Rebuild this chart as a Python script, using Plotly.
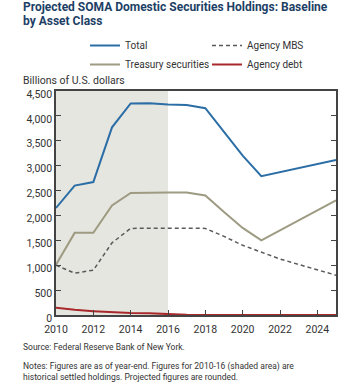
import plotly.graph_objects as go

years = list(range(2010, 2026))
total = [2150, 2600, 2670, 3770, 4250, 4255, 4230, 4220, 4155, 3680, 3200, 2790, 2870, 2950, 3030, 3115]
treasury = [1010, 1650, 1650, 2200, 2450, 2460, 2460, 2460, 2400, 2070, 1750, 1500, 1700, 1900, 2100, 2305]
mbs = [1000, 840, 900, 1450, 1740, 1745, 1745, 1745, 1740, 1580, 1400, 1255, 1125, 1015, 910, 800]
agency_debt = [147, 104, 77, 57, 39, 33, 17, 4, 2, 2, 2, 2, 2, 2, 2, 2]
ytick_vals = [0, 500, 1000, 1500, 2000, 2500, 3000, 3500, 4000, 4500]
xtick_vals = [2010, 2012, 2014, 2016, 2018, 2020, 2022, 2024]

FONT = "Roboto"
L, R, T, B = 56, 14, 91, 77
PW, PH = 350 - L - R, 392 - T - B


def px(xp):
    return (xp - L) / PW


def py(yp):
    return (392 - B - yp) / PH


fig = go.Figure()
fig.add_trace(go.Scatter(x=years, y=total, mode="lines", name="Total",
                         line=dict(color="#2b6ea6", width=2), legend="legend"))
fig.add_trace(go.Scatter(x=years, y=treasury, mode="lines", name="Treasury securities",
                         line=dict(color="#9e9b83", width=2), legend="legend"))
fig.add_trace(go.Scatter(x=years, y=mbs, mode="lines", name="Agency MBS",
                         line=dict(color="#5a5a5a", width=1.5, dash="4px,3px"), legend="legend2"))
fig.add_trace(go.Scatter(x=years, y=agency_debt, mode="lines", name="Agency debt",
                         line=dict(color="#a8282b", width=2), legend="legend2"))

fig.add_shape(type="rect", xref="x", yref="y", x0=2010, x1=2016, y0=0, y1=4500,
              fillcolor="#e6e6e0", line=dict(width=0), layer="below")

fig.update_layout(
    width=350, height=392,
    margin=dict(l=L, r=R, t=T, b=B, autoexpand=False),
    plot_bgcolor="white", paper_bgcolor="white",
    font=dict(family=FONT, size=11, color="#333333"),
    xaxis=dict(range=[2010, 2025], tickvals=xtick_vals, ticks="inside", ticklen=5,
               tickcolor="#444", showline=True, linecolor="#444", linewidth=1.5, mirror=True,
               showgrid=False, zeroline=False, ticklabelstandoff=4,
               tickfont=dict(size=10.5, color="#333")),
    yaxis=dict(range=[0, 4500], tickvals=ytick_vals, tickformat=",", ticks="inside",
               ticklen=5, tickcolor="#444", ticklabelshift=3,
               showline=True, linecolor="#444", linewidth=1.5, mirror="ticks",
               showgrid=False, zeroline=False, tickfont=dict(size=10.5, color="#333")),
    legend=dict(x=px(85), y=py(31), xanchor="left", yanchor="top", bgcolor="rgba(0,0,0,0)",
                font=dict(size=10, color="#333"), tracegroupgap=0, itemwidth=30),
    legend2=dict(x=px(207), y=py(31), xanchor="left", yanchor="top", bgcolor="rgba(0,0,0,0)",
                 font=dict(size=10, color="#333"), tracegroupgap=0, itemwidth=30),
    showlegend=True,
)

fig.add_annotation(xref="paper", yref="paper", x=px(21), y=py(80),
                   xanchor="left", yanchor="middle",
                   text="Billions of U.S. dollars", showarrow=False,
                   font=dict(size=10.5, color="#333"))
fig.add_annotation(xref="paper", yref="paper", x=px(21), y=py(7.5),
                   xanchor="left", yanchor="middle", align="left",
                   text="<b>Projected SOMA Domestic Securities Holdings: Baseline</b>",
                   showarrow=False, font=dict(size=12, color="#1d3f66", family=FONT))
fig.add_annotation(xref="paper", yref="paper", x=px(21), y=py(21),
                   xanchor="left", yanchor="middle", align="left",
                   text="<b>by Asset Class</b>",
                   showarrow=False, font=dict(size=12, color="#1d3f66", family=FONT))
fig.add_annotation(xref="paper", yref="paper", x=px(21), y=py(347),
                   xanchor="left", yanchor="middle", align="left",
                   text="Source: Federal Reserve Bank of New York.", showarrow=False,
                   font=dict(size=8.5, color="#333"))
fig.add_annotation(xref="paper", yref="paper", x=px(21), y=py(359),
                   xanchor="left", yanchor="top", align="left",
                   text="Notes: Figures are as of year-end. Figures for 2010-16 (shaded area) are<br>historical settled holdings. Projected figures are rounded.",
                   showarrow=False, font=dict(size=8.5, color="#333"))

fig.write_html("out.html")
